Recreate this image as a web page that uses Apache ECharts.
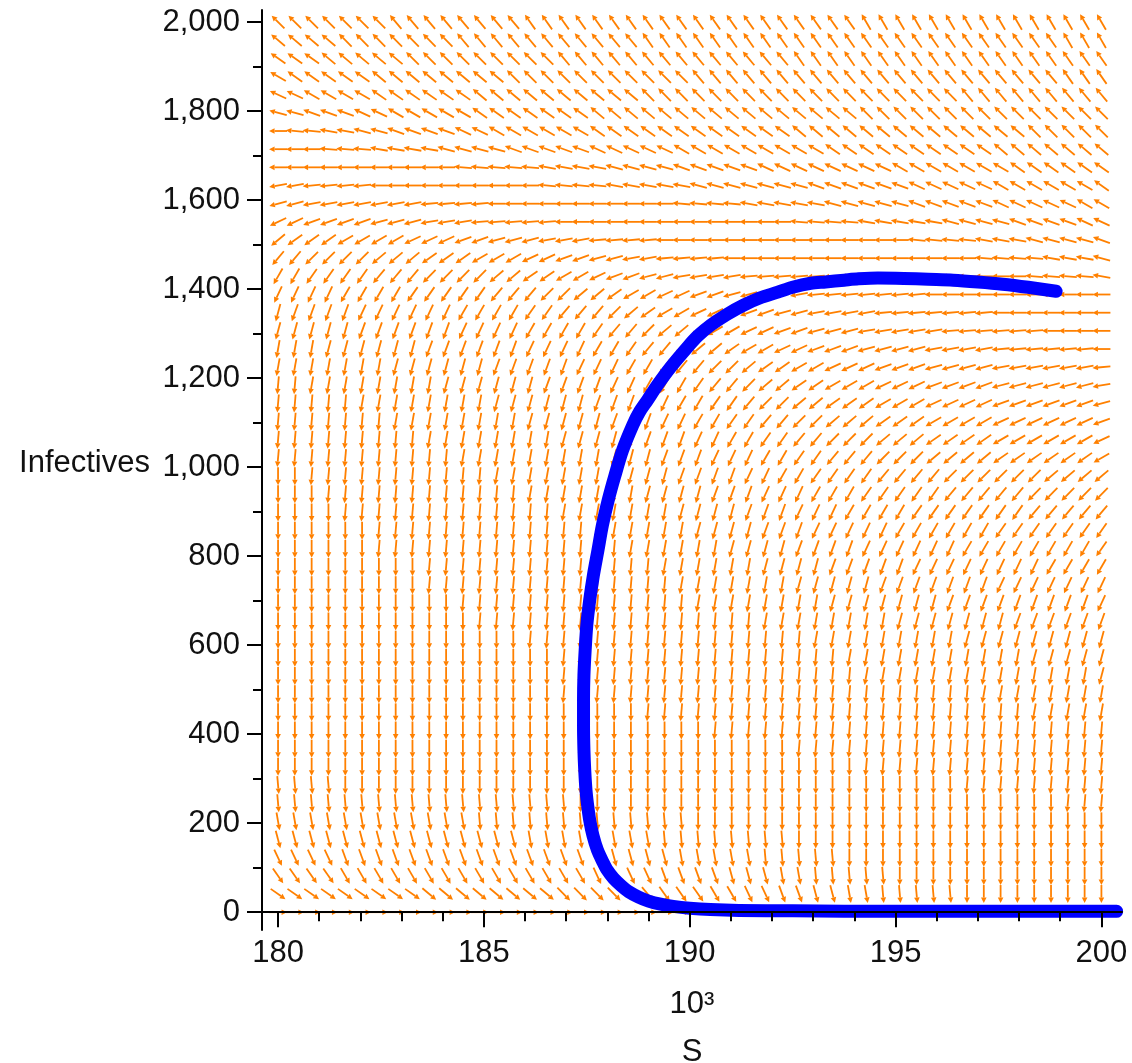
<!DOCTYPE html>
<html>
<head>
<meta charset="utf-8">
<script src="https://cdn.jsdelivr.net/npm/echarts@6/dist/echarts.min.js"></script>
<style>
html,body{margin:0;padding:0;background:#fff;}
#chart{width:1132px;height:1063px;}
</style>
</head>
<body>
<div id="chart"></div>
<script>
// ---------- DATA ----------
// Direction-field grid: S (in thousands) of each arrow column
const sGrid = [180.000,180.408,180.816,181.224,181.633,182.041,182.449,182.857,183.265,183.673,
  184.082,184.490,184.898,185.306,185.714,186.122,186.531,186.939,187.347,187.755,
  188.163,188.571,188.980,189.388,189.796,190.204,190.612,191.020,191.429,191.837,
  192.245,192.653,193.061,193.469,193.878,194.286,194.694,195.102,195.510,195.918,
  196.327,196.735,197.143,197.551,197.959,198.367,198.776,199.184,199.592,200.000];
// Infectives value of each arrow row (bottom to top)
const iGrid = [0,40.8,81.6,122.4,163.3,204.1,244.9,285.7,326.5,367.3,
  408.2,449.0,489.8,530.6,571.4,612.2,653.1,693.9,734.7,775.5,
  816.3,857.1,898.0,938.8,979.6,1020.4,1061.2,1102.0,1142.9,1183.7,
  1224.5,1265.3,1306.1,1346.9,1387.8,1428.6,1469.4,1510.2,1551.0,1591.8,
  1632.7,1673.5,1714.3,1755.1,1795.9,1836.7,1877.6,1918.4,1959.2,2000.0];
// Arrow directions, run-length coded per row (top row first).
// Code letter k in angleKey = pointing angle 110 + 5*k degrees (screen, counter-clockwise from +S).
const angleKey = "ABCDEFGHIJKLMNOPQRSTUVWXYZabcdefghijklmnopqrstuvwxy";
const fieldRows = [
  "F7E8D20C15",
  "G4F7E11D25C3",
  "H3G5F9E14D19",
  "I1H5G8F11E22D3",
  "J2I4H6G10F19E9",
  "L2K3J2I5H7G16F15",
  "O1N2M2L2K4J2I6H12G14F5",
  "O3N3M4L4K5J5I9H10G7",
  "O11N5M4L4K5J8I7H6",
  "Q2P4O10N4M5L7K6J5I6H1",
  "R2Q7P4O11N4M5L5K5J5I2",
  "T2S4R3Q3P5O14N4M5L4K4J2",
  "W1V3U4T3S2R3Q3P4O15N4M3L4K1",
  "Y2X4W3V3U3T2S2R2Q2P4O15N4M3L1",
  "a2Z4Y3X4W2V2U2T1S2R2Q4P6O11N4M1",
  "b4a4Z5Y3X2W2V1U2T2S2R2Q3P7O11",
  "d1c4b6a4Z2Y3X1W1V1U2T2S3R2Q4P7O7",
  "d5c6b4a4Z1Y2X1W2V1U2T2S2R3Q5P6O4",
  "e3d6c6b4a2Z1Y2X1W2V1U2T2S3R4Q4P6O1",
  "e7d6c5b3a2Z1Y2X2W1V2U2T3S3R4Q6P1",
  "f2e8d6c4b2a3Z1Y2X1W2V2U3T3S4R6Q1",
  "f5e8d6c3b2a2Z2Y1X2W2V3U3T4S6R1",
  "f7e8d5c3b2a2Z2Y2X2W3V3U4T6S1",
  "f9e8d5c3b2a2Z2Y2X3W3V4U6T1",
  "f11e9d3c3b3a2Z2Y3X3W4V6U1",
  "g2f11e8d3c4b2a2Z4Y4X6W4",
  "g3f12e7d4c3b3a3Z5Y5X5",
  "g4f13e7d4c3b3a4Z7Y5",
  "g6f13e6d4c3b5a6Z7",
  "g6f15e6d4c4b6a8Z1",
  "g9f14e6d4c5b8a4",
  "g9f15e7d5c7b7",
  "g11f14e8d7c9b1",
  "g12f17e8d7c6",
  "g15f17e9d9",
  "g17f17e11d5",
  "g17f18e14d1",
  "g17f25e8",
  "g22f23e5",
  "g26f24",
  "g31f19",
  "g35f15",
  "h4g37f9",
  "h18g29f3",
  "i12h13g25",
  "j15i8h8g19",
  "l4k15j5i5h5g16",
  "n4m15l4k4j3i2h5g13",
  "r9q8p4o2n3m2l2k2j2i2h5g9",
  "y50"
];
// Solution trajectory (S in thousands, Infectives)
const trajS = [198.90,198.22,197.60,197.00,196.40,195.79,195.20,194.57,194.10,193.75,
  193.30,192.94,192.50,192.14,191.70,191.31,190.90,190.51,190.20,189.95,
  189.54,189.22,188.97,188.78,188.62,188.37,188.18,188.02,187.88,187.77,187.66,
  187.57,187.50,187.46,187.43,187.42,187.42,187.43,187.45,187.48,187.52,
  187.57,187.65,187.76,187.88,188.00,188.15,188.32,188.52,188.76,189.00,
  189.29,189.60,190.00,190.50,191.20,192.50,195.00,200.37];
const trajI = [1395,1404,1411,1416,1420,1422,1424,1425,1423,1420,
  1416,1413,1404,1393,1380,1364,1343,1319,1295,1270,
  1225,1185,1150,1124,1095,1038,980,926,870,813,757,
  701,645,589,532,476,420,364,318,274,240,
  207,172,139,115,94,76,61,46,34,25,
  18,13,9,6,4,3,2,2];
// Tick values
const xMajorTicks = [180,185,190,195,200];
const xMinorTicks = [181,182,183,184,186,187,188,189,191,192,193,194,196,197,198,199];
const yMajorTicks = [0,200,400,600,800,1000,1200,1400,1600,1800,2000];
const yMinorTicks = [100,300,500,700,900,1100,1300,1500,1700,1900];

// ---------- BUILD ----------
function decodeRow(str) {
  const out = [];
  const re = /([A-Za-z])(\d+)/g;
  let m;
  while ((m = re.exec(str)) !== null) {
    const ang = 110 + 5 * angleKey.indexOf(m[1]);
    for (let k = 0; k < parseInt(m[2], 10); k++) out.push(ang);
  }
  return out;
}
const fieldData = [];
for (let j = 0; j < iGrid.length; j++) {
  const angles = decodeRow(fieldRows[iGrid.length - 1 - j]);
  for (let i = 0; i < sGrid.length; i++) {
    fieldData.push([sGrid[i], iGrid[j], angles[i]]);
  }
}
const trajData = trajS.map((s, k) => [s, trajI[k]]);

const ORANGE = '#ff8000';
const FONT = 'Liberation Sans, Arial, sans-serif';
const TXT = '#111';

const chart = echarts.init(document.getElementById('chart'));
chart.setOption({
  animation: false,
  backgroundColor: '#ffffff',
  grid: {left: 262, right: 10, top: 10, bottom: 133, containLabel: false, outerBoundsMode: 'none'},
  xAxis: [{
    type: 'value', min: 179.61, max: 200.5, position: 'bottom', z: 10,
    axisLine: {show: true, onZero: true, lineStyle: {color: '#000', width: 2}},
    axisTick: {show: true, customValues: xMajorTicks, length: 15, lineStyle: {color: '#000', width: 2}},
    axisLabel: {show: true, customValues: xMajorTicks, margin: 8, color: TXT, fontSize: 31, fontFamily: FONT,
      formatter: v => String(Math.round(v))},
    splitLine: {show: false},
    name: '10\u00B3\nS', nameLocation: 'middle', nameGap: 50, nameMoveOverlap: false,
    nameTextStyle: {color: TXT, fontSize: 31, fontFamily: FONT, lineHeight: 48}
  }, {
    type: 'value', min: 179.61, max: 200.5, position: 'bottom', z: 10,
    axisLine: {show: false, onZero: true},
    axisTick: {show: true, customValues: xMinorTicks, length: 9, lineStyle: {color: '#000', width: 2}},
    axisLabel: {show: false},
    splitLine: {show: false}
  }],
  yAxis: [{
    type: 'value', min: -40, max: 2027, position: 'left', z: 10,
    axisLine: {show: true, onZero: false, lineStyle: {color: '#000', width: 2}},
    axisTick: {show: true, customValues: yMajorTicks, length: 15, lineStyle: {color: '#000', width: 2}},
    axisLabel: {show: true, customValues: yMajorTicks, margin: 22, color: TXT, fontSize: 31, fontFamily: FONT,
      formatter: v => Math.round(v).toLocaleString('en-US')},
    splitLine: {show: false},
    name: 'Infectives', nameLocation: 'middle', nameRotate: 0, nameGap: 112, nameMoveOverlap: false,
    nameTextStyle: {color: TXT, fontSize: 31, fontFamily: FONT, verticalAlign: 'bottom', lineHeight: 14}
  }, {
    type: 'value', min: -40, max: 2027, position: 'left', z: 10,
    axisLine: {show: false, onZero: false},
    axisTick: {show: true, customValues: yMinorTicks, length: 9, lineStyle: {color: '#000', width: 2}},
    axisLabel: {show: false},
    splitLine: {show: false}
  }],
  series: [{
    type: 'custom', name: 'field', z: 1, silent: true, clip: false,
    xAxisIndex: 0, yAxisIndex: 0,
    encode: {x: 0, y: 1},
    data: fieldData,
    progressive: 0,
    renderItem: function (params, api) {
      const c = api.coord([api.value(0), api.value(1)]);
      const a = api.value(2) * Math.PI / 180;
      const dx = Math.cos(a), dy = -Math.sin(a);
      const L = 18, h = 5.5, w = 2.8;
      const x1 = c[0] - dx * L / 2, y1 = c[1] - dy * L / 2;
      const x2 = c[0] + dx * L / 2, y2 = c[1] + dy * L / 2;
      const bx = x2 - dx * h, by = y2 - dy * h;
      return {
        type: 'group',
        children: [
          {type: 'line', shape: {x1: x1, y1: y1, x2: bx, y2: by},
            style: {stroke: ORANGE, lineWidth: 1.8}},
          {type: 'polygon', shape: {points: [[x2, y2], [bx - dy * w, by + dx * w], [bx + dy * w, by - dx * w]]},
            style: {fill: ORANGE}}
        ]
      };
    }
  }, {
    type: 'line', name: 'trajectory', z: 5, silent: true, clip: false,
    xAxisIndex: 0, yAxisIndex: 0,
    data: trajData, showSymbol: false, symbol: 'none', smooth: 0.3,
    lineStyle: {color: '#0000ff', width: 13, cap: 'round', join: 'round'}
  }]
});
</script>
</body>
</html>
